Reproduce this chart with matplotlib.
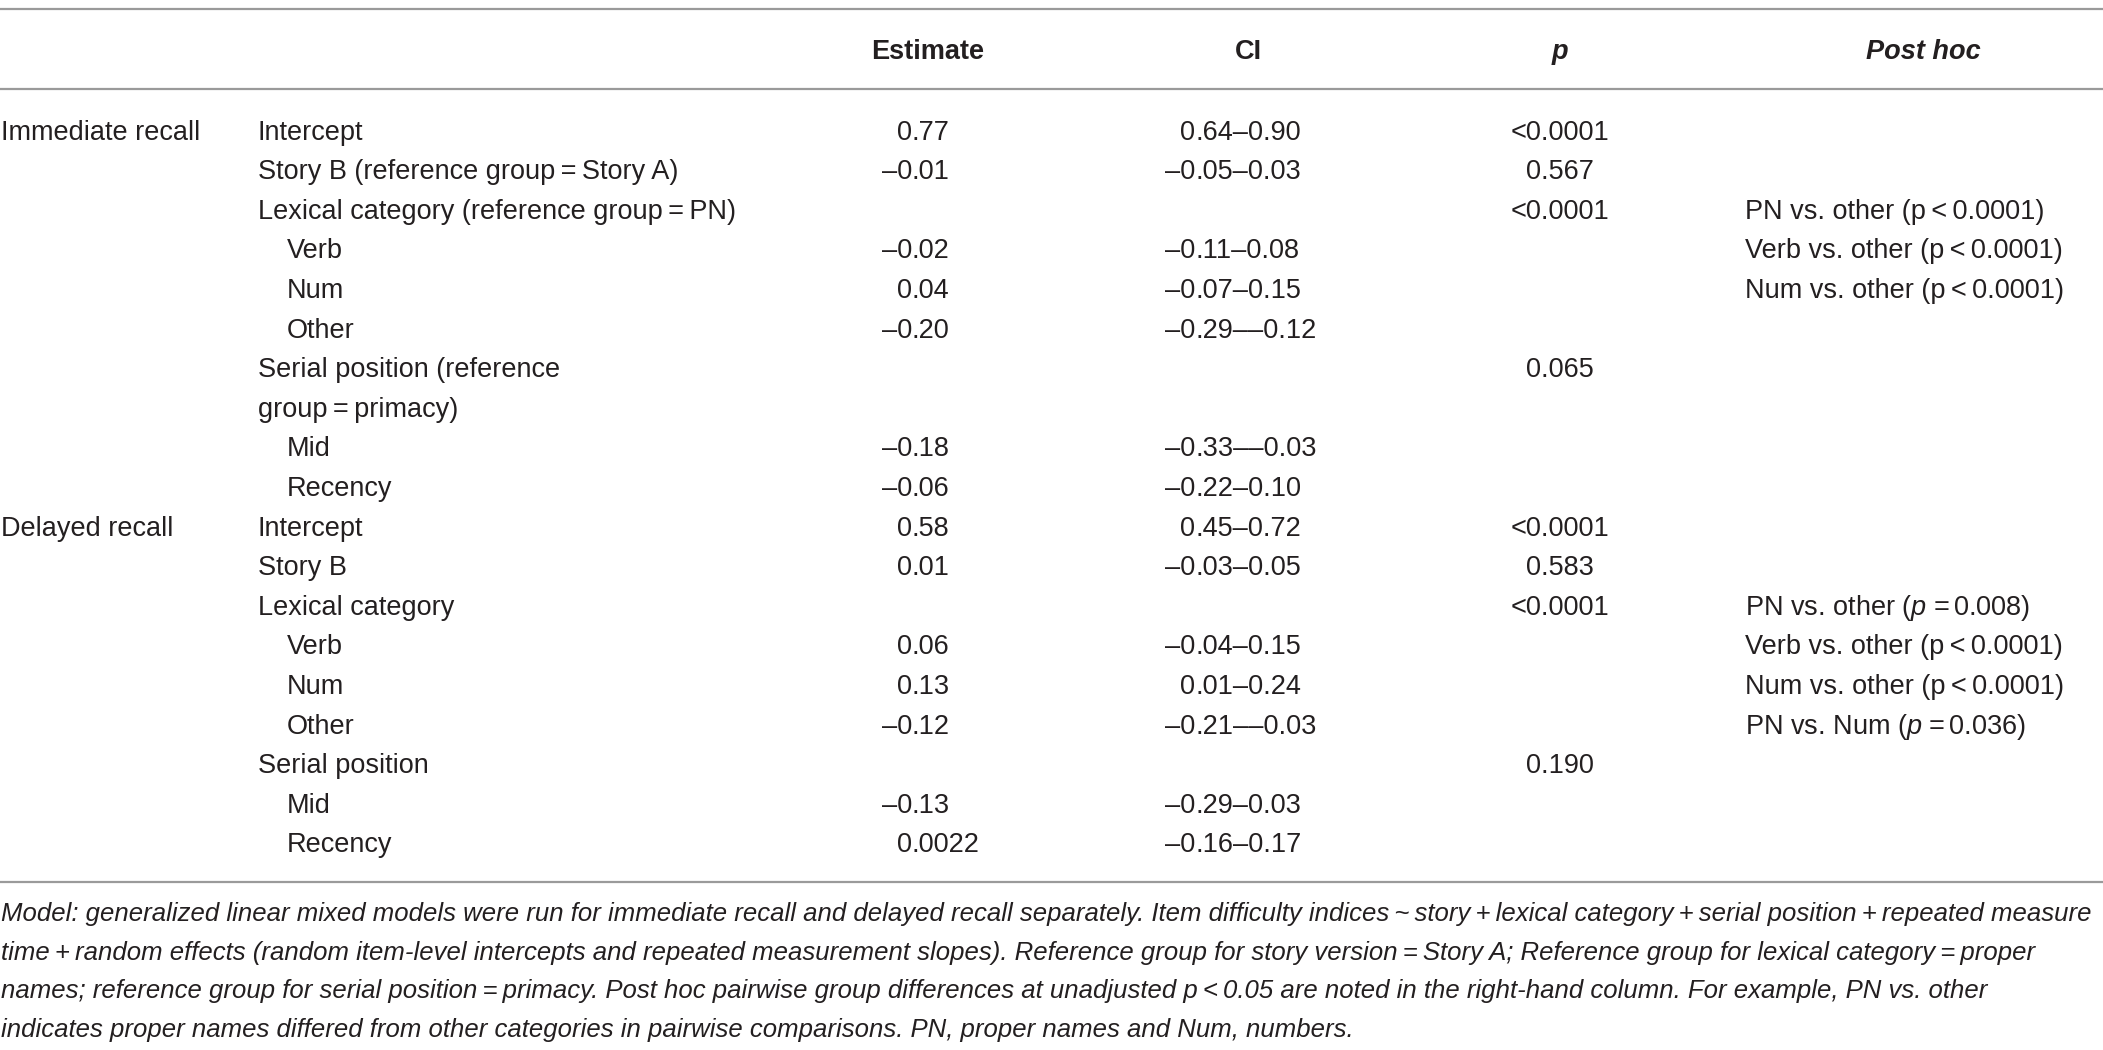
import matplotlib
matplotlib.use("Agg")
import matplotlib.pyplot as plt

plt.rcParams['font.family'] = ['Liberation Sans', 'DejaVu Sans']
plt.rcParams['mathtext.fontset'] = 'custom'
plt.rcParams['mathtext.it'] = 'Liberation Sans:italic'
plt.rcParams['mathtext.rm'] = 'Liberation Sans'

# ---- table data ----
headers = ["Estimate", "CI", "p", "Post hoc"]

outcomes = ["Immediate recall"] + [""] * 9 + ["Delayed recall"] + [""] * 8

terms = ["Intercept", "Story B (reference group\u2009=\u2009Story A)",
         "Lexical category (reference group\u2009=\u2009PN)",
         "Verb", "Num", "Other",
         "Serial position (reference", "group\u2009=\u2009primacy)",
         "Mid", "Recency",
         "Intercept", "Story B", "Lexical category",
         "Verb", "Num", "Other",
         "Serial position", "Mid", "Recency"]
indent = [0, 0, 0, 1, 1, 1, 0, 0, 1, 1,
          0, 0, 0, 1, 1, 1, 0, 1, 1]

estimates = ["0.77", "\u20130.01", "", "\u20130.02", "0.04", "\u20130.20", "", "",
             "\u20130.18", "\u20130.06",
             "0.58", "0.01", "", "0.06", "0.13", "\u20130.12", "", "\u20130.13", "0.0022"]

ci = ["0.64\u20130.90", "\u20130.05\u20130.03", "", "\u20130.11\u20130.08",
      "\u20130.07\u20130.15", "\u20130.29\u2013\u20130.12", "", "",
      "\u20130.33\u2013\u20130.03", "\u20130.22\u20130.10",
      "0.45\u20130.72", "\u20130.03\u20130.05", "", "\u20130.04\u20130.15",
      "0.01\u20130.24", "\u20130.21\u2013\u20130.03", "", "\u20130.29\u20130.03",
      "\u20130.16\u20130.17"]

pvals = ["<0.0001", "0.567", "<0.0001", "", "", "", "0.065", "", "", "",
         "<0.0001", "0.583", "<0.0001", "", "", "", "0.190", "", ""]

posthoc = ["", "", "PN vs. other (p\u2009<\u20090.0001)",
           "Verb vs. other (p\u2009<\u20090.0001)", "Num vs. other (p\u2009<\u20090.0001)",
           "", "", "", "", "",
           "", "", r"PN vs. other ($\mathit{p}$ =$\,$0.008)",
           "Verb vs. other (p\u2009<\u20090.0001)", "Num vs. other (p\u2009<\u20090.0001)",
           r"PN vs. Num ($\mathit{p}$ =$\,$0.036)", "", "", ""]

footnote = [
    "Model: generalized linear mixed models were run for immediate recall and delayed recall separately. "
    "Item difficulty indices\u2009~\u2009story\u2009+\u2009lexical category\u2009+\u2009serial position\u2009+\u2009repeated measure",
    "time\u2009+\u2009random effects (random item-level intercepts and repeated measurement slopes). "
    "Reference group for story version\u2009=\u2009Story A; Reference group for lexical category\u2009=\u2009proper",
    "names; reference group for serial position\u2009=\u2009primacy. Post hoc pairwise group differences at "
    "unadjusted p\u2009<\u20090.05 are noted in the right-hand column. For example, PN vs. other",
    "indicates proper names differed from other categories in pairwise comparisons. "
    "PN, proper names and Num, numbers.",
]

# ---- layout (pixels) ----
W, H = 2103, 1050
fs = 19.5
col = '#231f20'
line_col = '#9a9a9a'

fig = plt.figure(figsize=(W / 100, H / 100), dpi=100)
ax = fig.add_axes([0, 0, 1, 1])
ax.set_xlim(0, W)
ax.set_ylim(H, 0)
ax.axis('off')

# rules
for y in [9, 88.5, 881.5]:
    ax.plot([0, W], [y, y], color=line_col, lw=1.6, solid_capstyle='butt')

# header
head_y = 59
ax.text(928, head_y, headers[0], ha='center', va='baseline', fontsize=fs, fontweight='bold', color=col)
ax.text(1248, head_y, headers[1], ha='center', va='baseline', fontsize=fs, fontweight='bold', color=col)
ax.text(1560, head_y, headers[2], ha='center', va='baseline', fontsize=fs, fontweight='bold',
        fontstyle='italic', color=col)
ax.text(1923, head_y, headers[3], ha='center', va='baseline', fontsize=fs, fontweight='bold',
        fontstyle='italic', color=col)


def dec_text(x, y, s):
    # align on the first decimal point
    i = s.find('.')
    ax.text(x, y, s[:i], ha='right', va='baseline', fontsize=fs, color=col)
    ax.text(x, y, s[i:], ha='left', va='baseline', fontsize=fs, color=col)


y0, step = 139.5, 39.6
for r in range(len(terms)):
    y = y0 + r * step
    if outcomes[r]:
        ax.text(1, y, outcomes[r], ha='left', va='baseline', fontsize=fs, color=col)
    ax.text(258 + 29 * indent[r], y, terms[r], ha='left', va='baseline', fontsize=fs, color=col)
    if estimates[r]:
        dec_text(912, y, estimates[r])
    if ci[r]:
        dec_text(1195, y, ci[r])
    if pvals[r]:
        ax.text(1560, y, pvals[r], ha='center', va='baseline', fontsize=fs, color=col)
    if posthoc[r]:
        ax.text(1745, y, posthoc[r], ha='left', va='baseline', fontsize=fs, color=col)

# footnote, fitted so the first line spans the width
fn_y0, fn_step = 921.5, 38.4
fn_texts = []
for k, line in enumerate(footnote):
    t = ax.text(1, fn_y0 + k * fn_step, line, ha='left', va='baseline', fontsize=fs,
                fontstyle='italic', color=col)
    fn_texts.append(t)
renderer = fig.canvas.get_renderer()
w0 = fn_texts[0].get_window_extent(renderer).width
scale = min(1.0, 2088 / w0)
for t in fn_texts:
    t.set_fontsize(fs * scale)

fig.savefig("out.png", dpi=100)
